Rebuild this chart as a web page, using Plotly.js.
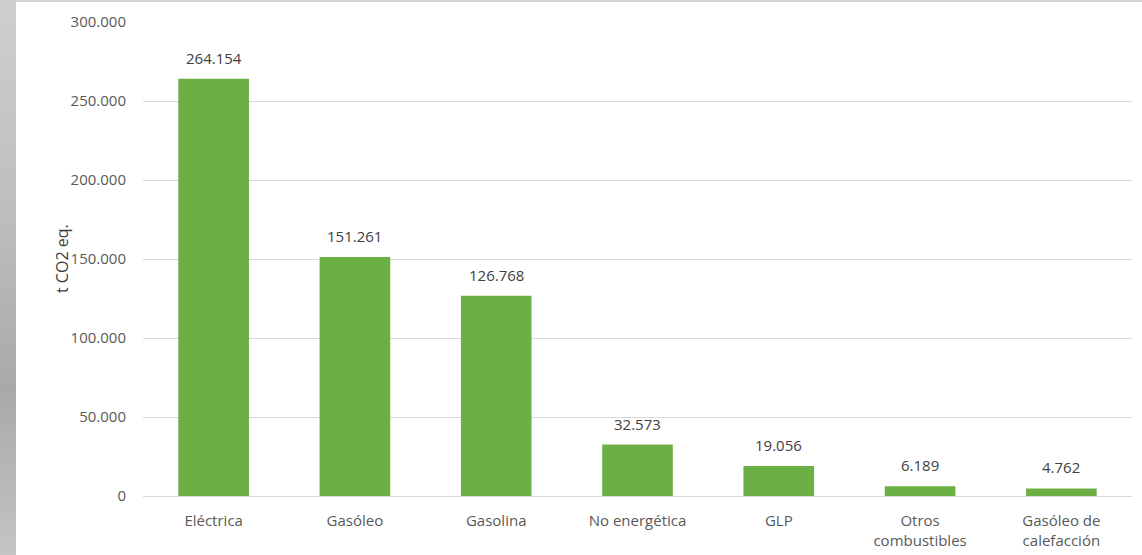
<!DOCTYPE html>
<html>
<head>
<meta charset="utf-8">
<script src="https://cdn.plot.ly/plotly-3.0.1.min.js"></script>
<style>
html,body{margin:0;padding:0;}
#wrap{position:relative;width:1142px;height:555px;background:#ffffff;}
#strip{position:absolute;left:0;top:0;width:16px;height:555px;background:linear-gradient(180deg,#cfcfcf 0%,#bdbdbd 40%,#a9a9a9 70%,#c4c4c4 100%);}
#topline{position:absolute;left:16px;top:0;width:1126px;height:2px;background:#d4d4d4;}
#chart{position:absolute;left:0;top:0;width:1142px;height:555px;}
</style>
</head>
<body>
<div id="wrap"><div id="strip"></div><div id="topline"></div><div id="chart"></div></div>
<script>
var categories = ["Eléctrica","Gasóleo","Gasolina","No energética","GLP","Otros<br>combustibles","Gasóleo de<br>calefacción"];
var emissions = [264154, 151261, 126768, 32573, 19056, 6189, 4762];
var yTickValues = [0, 50000, 100000, 150000, 200000, 250000, 300000];
var yAxisTitle = "t CO2 eq.";

function fmt(v){ return String(v).replace(/\B(?=(\d{3})+(?!\d))/g, "."); }

var trace = {
  type: "bar",
  x: categories,
  y: emissions,
  marker: {color: "#6caf45", line: {width: 0}},
  hoverinfo: "x+y"
};

var annotations = categories.map(function(c, i){
  return {
    x: c, y: emissions[i], xref: "x", yref: "y",
    text: fmt(emissions[i]), showarrow: false,
    yanchor: "bottom", yshift: 9,
    font: {family: "Open Sans, sans-serif", size: 15, color: "#404040"}
  };
});
annotations.push({
  xref: "paper", yref: "paper", x: 0, y: 0.5,
  xanchor: "center", yanchor: "middle", xshift: -81,
  textangle: -90, showarrow: false, text: yAxisTitle,
  font: {family: "Open Sans, sans-serif", size: 16, color: "#404040"}
});

var layout = {
  width: 1142, height: 555,
  margin: {l: 143, r: 10, t: 22, b: 59},
  paper_bgcolor: "rgba(0,0,0,0)",
  plot_bgcolor: "rgba(0,0,0,0)",
  separators: ",.",
  bargap: 0.5,
  showlegend: false,
  font: {family: "Open Sans, sans-serif", size: 15, color: "#595959"},
  annotations: annotations,
  xaxis: {
    type: "category",
    showgrid: false, zeroline: false, showline: false,
    ticks: "", ticklabelstandoff: 14,
    tickfont: {size: 15, color: "#595959"},
    fixedrange: true
  },
  yaxis: {
    range: [0, 300000],
    tickvals: yTickValues,
    tickformat: ",.0f",
    showgrid: true, gridcolor: "#d9d9d9", gridwidth: 1,
    zeroline: true, zerolinecolor: "#d9d9d9", zerolinewidth: 1,
    showline: false, ticks: "",
    ticklabelstandoff: 16,
    tickfont: {size: 15, color: "#595959"},
    fixedrange: true
  }
};

Plotly.newPlot("chart", [trace], layout, {displayModeBar: false, staticPlot: true});
</script>
</body>
</html>
